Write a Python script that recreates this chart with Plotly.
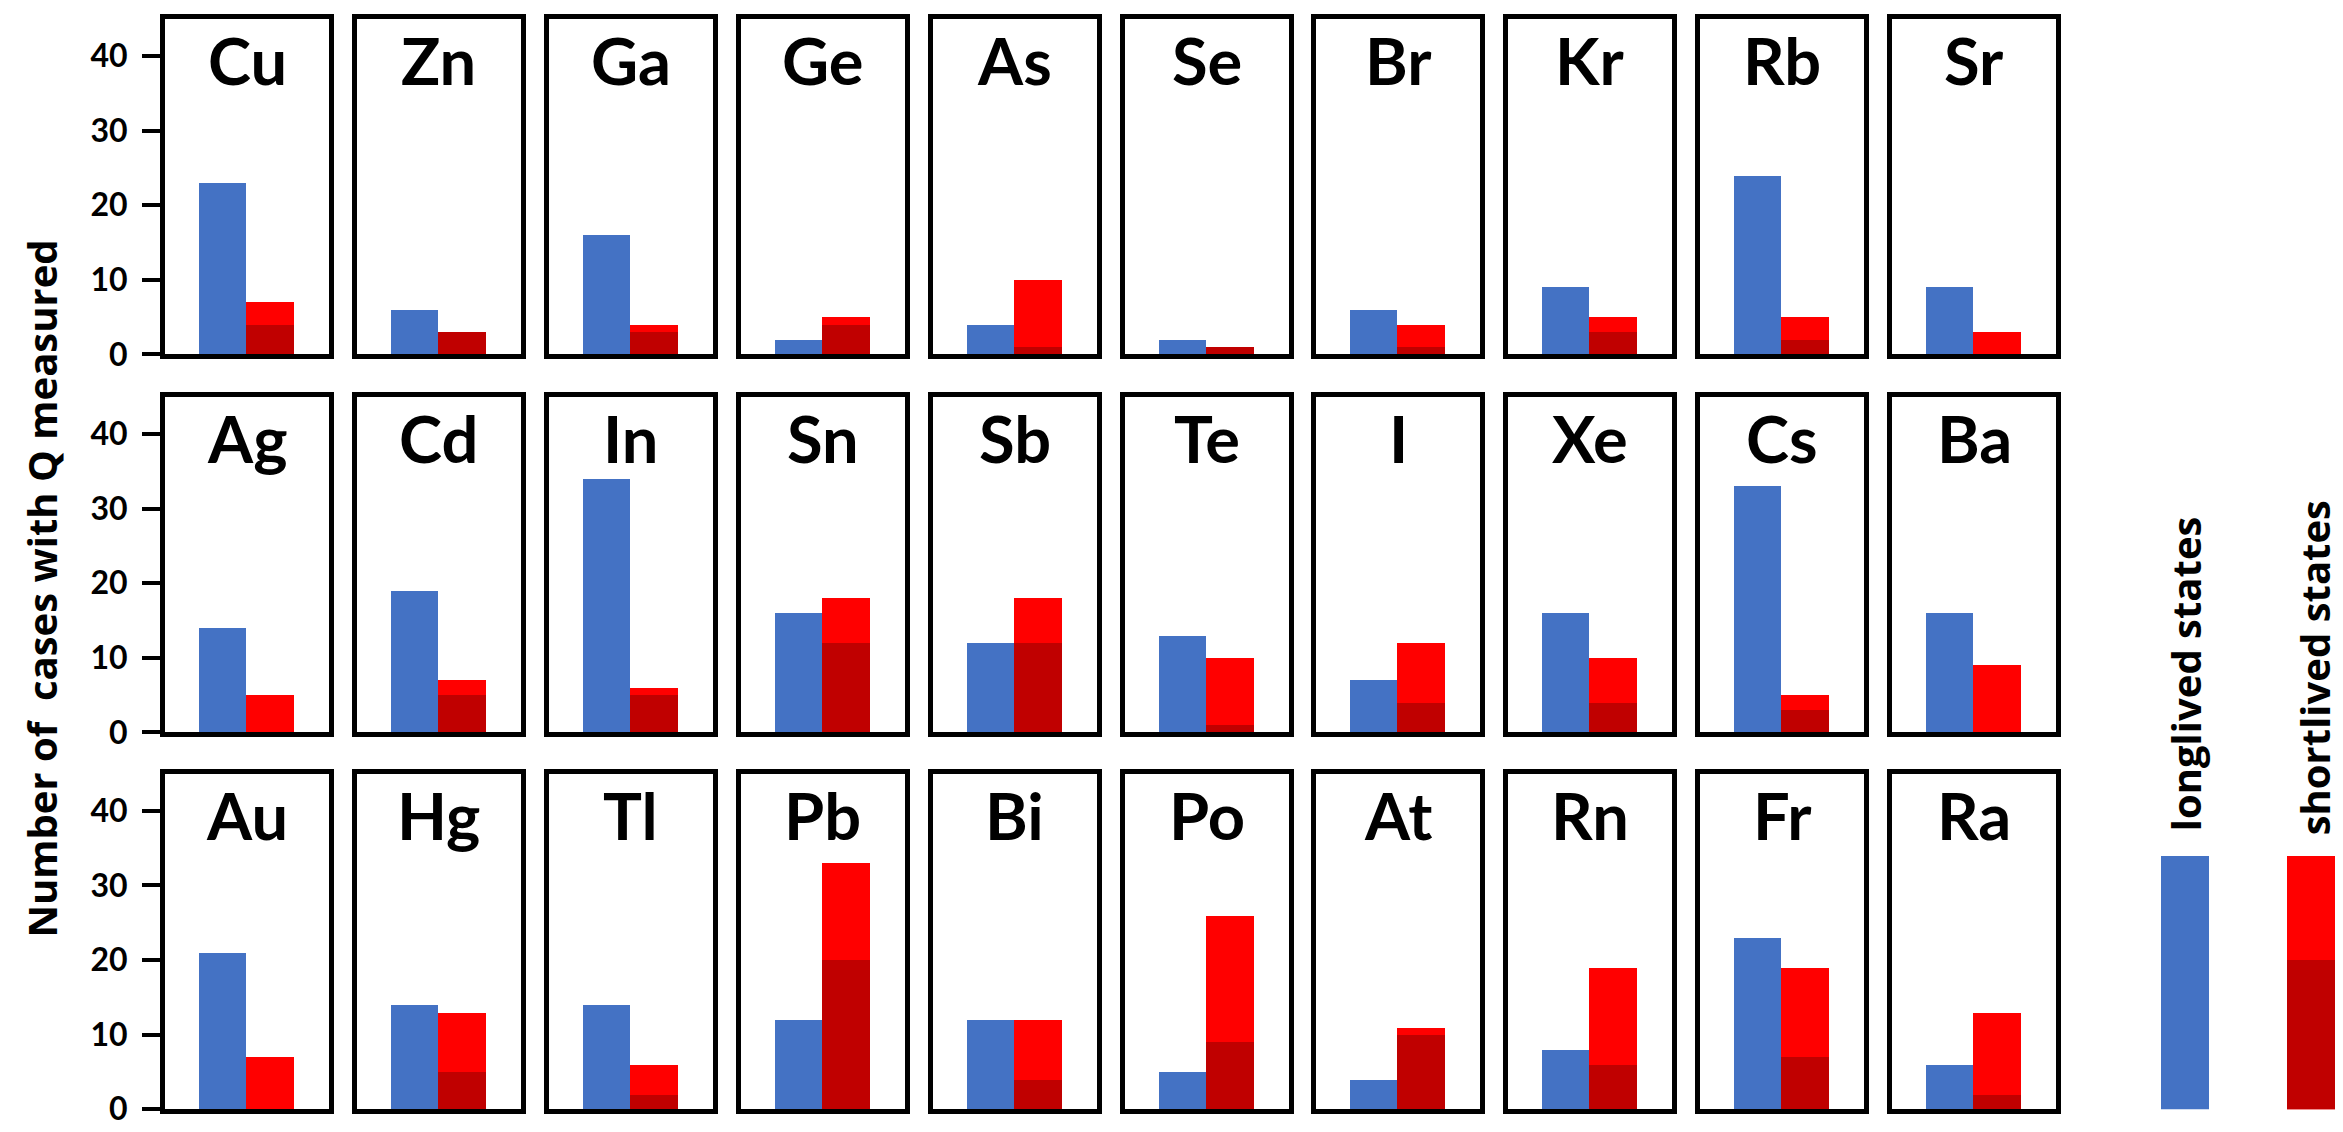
import plotly.graph_objects as go

# ---------------- data ----------------
elements_row1 = ["Cu", "Zn", "Ga", "Ge", "As", "Se", "Br", "Kr", "Rb", "Sr"]
elements_row2 = ["Ag", "Cd", "In", "Sn", "Sb", "Te", "I", "Xe", "Cs", "Ba"]
elements_row3 = ["Au", "Hg", "Tl", "Pb", "Bi", "Po", "At", "Rn", "Fr", "Ra"]

longlived_row1 = [23, 6, 16, 2, 4, 2, 6, 9, 24, 9]
shortlived_row1 = [7, 3, 4, 5, 10, 1, 4, 5, 5, 3]
shortlived_dark_row1 = [4, 3, 3, 4, 1, 1, 1, 3, 2, 0]

longlived_row2 = [14, 19, 34, 16, 12, 13, 7, 16, 33, 16]
shortlived_row2 = [5, 7, 6, 18, 18, 10, 12, 10, 5, 9]
shortlived_dark_row2 = [0, 5, 5, 12, 12, 1, 4, 4, 3, 0]

longlived_row3 = [21, 14, 14, 12, 12, 5, 4, 8, 23, 6]
shortlived_row3 = [7, 13, 6, 33, 12, 26, 11, 19, 19, 13]
shortlived_dark_row3 = [0, 5, 2, 20, 4, 9, 10, 6, 7, 2]

legend_labels = ["longlived states", "shortlived states"]
legend_values = [34, 34]
legend_dark_value = 20

y_ticks = [0, 10, 20, 30, 40]
y_title = "Number of\u00a0 cases with Q measured"

# ---------------- style ----------------
BLUE = "#4472C4"
RED = "#FF0000"
DARK = "#C00000"
W, H = 2343, 1132

rows = [
    (elements_row1, longlived_row1, shortlived_row1, shortlived_dark_row1),
    (elements_row2, longlived_row2, shortlived_row2, shortlived_dark_row2),
    (elements_row3, longlived_row3, shortlived_row3, shortlived_dark_row3),
]
row_tops = [11, 395, 778]
row_bottoms = [352, 736, 1119]
col_left0, col_pitch, col_w = 157, 191.9, 164

fig = go.Figure()
layout = dict(
    width=W, height=H,
    margin=dict(l=0, r=0, t=0, b=0),
    paper_bgcolor="white", plot_bgcolor="white",
    showlegend=False, barmode="overlay", bargap=0,
    annotations=[],
)

label_font = dict(family="Lato", size=65, color="black", weight="bold")
text_font = dict(family="Open Sans", size=40, color="black", weight="bold")

k = 0
for r, (els, lon, sho, dark) in enumerate(rows):
    ydom = [1 - row_bottoms[r] / H, 1 - row_tops[r] / H]
    for c in range(10):
        k += 1
        xa = "x" if k == 1 else f"x{k}"
        ya = "y" if k == 1 else f"y{k}"
        left = col_left0 + c * col_pitch
        xdom = [left / W, (left + col_w) / W]
        layout["xaxis" if k == 1 else f"xaxis{k}"] = dict(
            domain=xdom, anchor=ya, range=[-1.21, 2.24],
            showline=True, linecolor="black", linewidth=5, mirror=True,
            showticklabels=False, ticks="", showgrid=False, zeroline=False,
        )
        yax = dict(
            domain=ydom, anchor=xa, range=[0, 45],
            showline=True, linecolor="black", linewidth=5, mirror=True,
            showgrid=False, zeroline=False,
        )
        if c == 0:
            yax.update(ticks="outside", ticklen=18, tickwidth=4, tickcolor="black",
                       tickvals=y_ticks, showticklabels=True,
                       tickfont=dict(family="Lato", size=32, color="black", weight="bold"),
                       ticklabelstandoff=8)
        else:
            yax.update(ticks="", showticklabels=False)
        layout["yaxis" if k == 1 else f"yaxis{k}"] = yax

        fig.add_trace(go.Bar(x=[0], y=[lon[c]], width=[1], marker=dict(color=BLUE, line=dict(width=0)),
                             xaxis=xa, yaxis=ya, name=legend_labels[0]))
        fig.add_trace(go.Bar(x=[1], y=[sho[c]], width=[1], marker=dict(color=RED, line=dict(width=0)),
                             xaxis=xa, yaxis=ya, name=legend_labels[1]))
        fig.add_trace(go.Bar(x=[1], y=[dark[c]], width=[1], marker=dict(color=DARK, line=dict(width=0)),
                             xaxis=xa, yaxis=ya, name=legend_labels[1]))
        layout["annotations"].append(dict(
            text=els[c], xref=f"{xa} domain", yref=f"{ya} domain",
            x=0.5, y=1.0, xanchor="center", yanchor="top",
            showarrow=False, font=label_font,
        ))

# ---------------- legend (bars drawn on their own axis, row-3 scale) ----------------
k += 1
xa, ya = f"x{k}", f"y{k}"
layout[f"xaxis{k}"] = dict(domain=[2129 / W, 1.0], anchor=ya, range=[-0.381, 1.317], visible=False)
layout[f"yaxis{k}"] = dict(domain=[1 - row_bottoms[2] / H, 1 - row_tops[2] / H], anchor=xa,
                           range=[0, 45], visible=False)
fig.add_trace(go.Bar(x=[0], y=[legend_values[0]], width=[0.381], marker=dict(color=BLUE, line=dict(width=0)),
                     xaxis=xa, yaxis=ya))
fig.add_trace(go.Bar(x=[1], y=[legend_values[1]], width=[0.381], marker=dict(color=RED, line=dict(width=0)),
                     xaxis=xa, yaxis=ya))
fig.add_trace(go.Bar(x=[1], y=[legend_dark_value], width=[0.381], marker=dict(color=DARK, line=dict(width=0)),
                     xaxis=xa, yaxis=ya))

layout["annotations"].append(dict(
    text=legend_labels[0], xref="paper", yref="paper", x=2177.5 / W, y=1 - 676.5 / H,
    xanchor="center", yanchor="middle", textangle=-90, showarrow=False, font=text_font))
layout["annotations"].append(dict(
    text=legend_labels[1], xref="paper", yref="paper", x=2306 / W, y=1 - 671 / H,
    xanchor="center", yanchor="middle", textangle=-90, showarrow=False, font=text_font))
layout["annotations"].append(dict(
    text=y_title, xref="paper", yref="paper", x=34 / W, y=1 - 590 / H,
    xanchor="center", yanchor="middle", textangle=-90, showarrow=False, font=text_font))

fig.update_layout(**layout)
fig.write_html("out.html")
